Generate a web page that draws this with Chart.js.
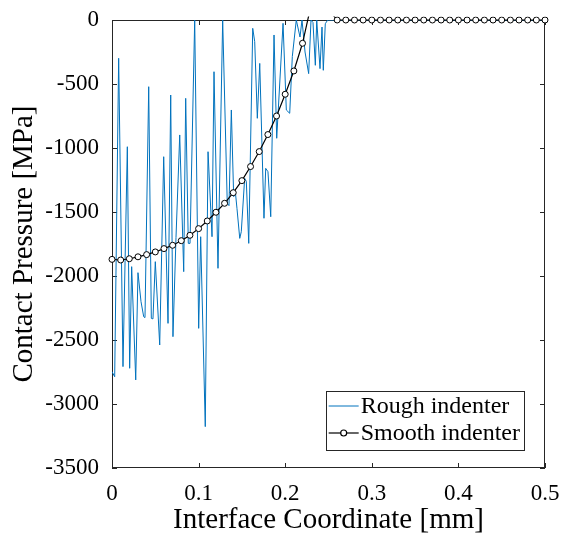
<!DOCTYPE html>
<html>
<head>
<meta charset="utf-8">
<script src="https://cdn.jsdelivr.net/npm/chart.js@4.4.1/dist/chart.umd.min.js"></script>
<style>
  body { margin: 0; background: #fff; }
  canvas { display: block; }
</style>
</head>
<body>
<canvas id="chart" width="564" height="540"></canvas>
<script>
/* -------------------- DATA -------------------- */
const xTickLabels = ["0", "0.1", "0.2", "0.3", "0.4", "0.5"];
const yTickLabels = ["-3500", "-3000", "-2500", "-2000", "-1500", "-1000", "-500", "0"];

const seriesNames = ["Rough indenter", "Smooth indenter"];

// rough indenter (mm, MPa)
const roughX = [
    0.0000, 0.0031, 0.0077, 0.0127, 0.0177, 0.0204, 0.0227, 0.0274, 0.0300, 0.0335,
    0.0366, 0.0381, 0.0424, 0.0454, 0.0473, 0.0500, 0.0551, 0.0597, 0.0647, 0.0678,
    0.0704, 0.0739, 0.0782, 0.0828, 0.0851, 0.0881, 0.0901, 0.0955, 0.1001, 0.1024,
    0.1077, 0.1109, 0.1155, 0.1178, 0.1224, 0.1278, 0.1331, 0.1351, 0.1378, 0.1405,
    0.1424, 0.1443, 0.1475, 0.1493, 0.1532, 0.1551, 0.1579, 0.1625, 0.1648, 0.1678,
    0.1706, 0.1755, 0.1775, 0.1801, 0.1833, 0.1871, 0.1902, 0.1975, 0.2013, 0.2052,
    0.2082, 0.2128, 0.2171, 0.2194, 0.2229, 0.2271, 0.2298, 0.2321, 0.2348, 0.2364,
    0.2402, 0.2425, 0.2440, 0.2463, 0.2491, 0.5000
];
const roughY = [
    -2747, -2787, -299, -2708, -990, -2721, -1927, -2812, -1974, -2200,
    -2318, -2325, -521, -2331, -2335, -1888, -2539, -1068, -2370, -586,
    -2474, -1700, -898, -1966, -612, -1745, -1745, 0, -2409, -1693,
    -3177, -1029, -1693, -404, -1940, 0, -1432, -1450, -703, -1380,
    -1341, -1471, -1706, -1654, -1237, -1260, -1745, -65, -169, -768,
    -339, -1549, -1159, -1185, -1537, -117, -924, -26, -703, -729,
    -286, 0, -133, 0, -250, -419, 0, -20, -354, 0,
    -380, -55, -393, -29, 0, 0
];

// smooth indenter nodes (mm, MPa); 0.23-0.25 sit just above the top of the axes
const smoothX = [
    0.00, 0.01, 0.02, 0.03, 0.04, 0.05, 0.06, 0.07, 0.08, 0.09,
    0.10, 0.11, 0.12, 0.13, 0.14, 0.15, 0.16, 0.17, 0.18, 0.19,
    0.20, 0.21, 0.22, 0.23, 0.24, 0.25, 0.26, 0.27, 0.28, 0.29,
    0.30, 0.31, 0.32, 0.33, 0.34, 0.35, 0.36, 0.37, 0.38, 0.39,
    0.40, 0.41, 0.42, 0.43, 0.44, 0.45, 0.46, 0.47, 0.48, 0.49, 0.50
];
const smoothY = [
    -1870, -1875, -1865, -1850, -1833, -1812, -1786, -1760, -1724, -1682,
    -1630, -1570, -1502, -1432, -1349, -1255, -1145, -1028, -895, -750,
    -580, -398, -182, 120, 110, 80, 0, 0, 0, 0,
    0, 0, 0, 0, 0, 0, 0, 0, 0, 0,
    0, 0, 0, 0, 0, 0, 0, 0, 0, 0, 0
];

/* -------------------- STYLE -------------------- */
const SERIF = "'Liberation Serif', 'Times New Roman', serif";
const AXIS_COLOR = "#262626";

const toPoints = (xs, ys) => xs.map((x, i) => ({ x: x, y: ys[i] }));

/* -------------------- MATLAB-LIKE BOX, TICKS, LEGEND -------------------- */
const matlabAxes = {
    id: "matlabAxes",
    beforeDatasetsDraw(chart) {
        const { ctx, chartArea: a, scales: { x, y } } = chart;
        const len = 5;
        ctx.save();
        ctx.strokeStyle = AXIS_COLOR;
        ctx.lineWidth = 1;
        ctx.strokeRect(a.left + 0.5, a.top + 0.5, a.width - 1, a.height - 1);

        ctx.beginPath();
        x.ticks.forEach(t => {
            const px = Math.round(x.getPixelForValue(t.value)) + 0.5;
            ctx.moveTo(px, a.bottom); ctx.lineTo(px, a.bottom - len);
            ctx.moveTo(px, a.top); ctx.lineTo(px, a.top + len);
        });
        y.ticks.forEach(t => {
            const py = Math.round(y.getPixelForValue(t.value)) + 0.5;
            ctx.moveTo(a.left, py); ctx.lineTo(a.left + len, py);
            ctx.moveTo(a.right, py); ctx.lineTo(a.right - len, py);
        });
        ctx.stroke();
        ctx.restore();
    },
    afterDatasetsDraw(chart) {
        const { ctx, chartArea: a } = chart;
        const sets = chart.data.datasets;
        ctx.save();
        ctx.font = "24px " + SERIF;
        const textW = Math.max(...sets.map(d => ctx.measureText(d.label).width));
        const sample = 30, rowH = 27;
        const w = 3 + sample + 2 + textW + 4;
        const h = 59;
        const bx = a.right - 21 - w;
        const by = a.bottom - 18 - h;

        ctx.fillStyle = "#fff";
        ctx.fillRect(bx, by, w, h);
        ctx.strokeStyle = AXIS_COLOR;
        ctx.lineWidth = 1;
        ctx.strokeRect(Math.round(bx) + 0.5, Math.round(by) + 0.5, Math.round(w), Math.round(h));

        sets.forEach((d, i) => {
            const cy = by + 15 + i * rowH;
            const x0 = bx + 3;
            ctx.strokeStyle = d.borderColor;
            ctx.lineWidth = d.borderWidth;
            ctx.beginPath();
            ctx.moveTo(x0, cy); ctx.lineTo(x0 + sample, cy);
            ctx.stroke();
            if (d.pointRadius > 0) {
                ctx.beginPath();
                ctx.arc(x0 + sample / 2, cy, d.pointRadius, 0, Math.PI * 2);
                ctx.fillStyle = d.pointBackgroundColor;
                ctx.fill();
                ctx.strokeStyle = d.pointBorderColor;
                ctx.stroke();
            }
            ctx.fillStyle = "#000";
            ctx.textBaseline = "middle";
            ctx.textAlign = "left";
            ctx.fillText(d.label, x0 + sample + 2, cy + 1);
        });
        ctx.restore();
    }
};

/* -------------------- CHART -------------------- */
new Chart(document.getElementById("chart"), {
    type: "line",
    data: {
        datasets: [
            {
                label: seriesNames[0],
                data: toPoints(roughX, roughY),
                borderColor: "#0072BD",
                borderWidth: 1,
                pointRadius: 0,
                tension: 0,
                order: 1
            },
            {
                label: seriesNames[1],
                data: toPoints(smoothX, smoothY),
                borderColor: "#000000",
                borderWidth: 1.2,
                pointRadius: 3,
                pointBorderWidth: 1,
                pointBackgroundColor: "#ffffff",
                pointBorderColor: "#000000",
                tension: 0,
                order: 0,
                clip: { left: 5, top: 3.6, right: 5, bottom: 5 }
            }
        ]
    },
    options: {
        responsive: false,
        animation: false,
        devicePixelRatio: 1,
        layout: { padding: { left: 0, right: 19, top: 20, bottom: 0 } },
        plugins: {
            legend: { display: false },
            tooltip: { enabled: false }
        },
        scales: {
            x: {
                type: "linear",
                min: 0,
                max: 0.5,
                afterFit: s => { s.height = 72; },
                grid: { display: false },
                border: { display: false },
                ticks: {
                    stepSize: 0.1,
                    autoSkip: false,
                    maxRotation: 0,
                    padding: 4,
                    color: "#000",
                    font: { family: SERIF, size: 23 },
                    callback: (v, i) => xTickLabels[i]
                },
                title: {
                    display: true,
                    text: "Interface Coordinate [mm]",
                    color: "#000",
                    font: { family: SERIF, size: 29, lineHeight: 1 },
                    padding: { top: 0, bottom: 5 }
                }
            },
            y: {
                type: "linear",
                min: -3500,
                max: 0,
                afterFit: s => { s.width = 112; },
                grid: { display: false },
                border: { display: false },
                ticks: {
                    stepSize: 500,
                    autoSkip: false,
                    padding: 5,
                    color: "#000",
                    font: { family: SERIF, size: 23 },
                    callback: (v, i) => yTickLabels[i]
                },
                title: {
                    display: true,
                    text: "Contact Pressure [MPa]",
                    color: "#000",
                    font: { family: SERIF, size: 29, lineHeight: 1 },
                    padding: { top: 10, bottom: 0 }
                }
            }
        }
    },
    plugins: [matlabAxes]
});
</script>
</body>
</html>
